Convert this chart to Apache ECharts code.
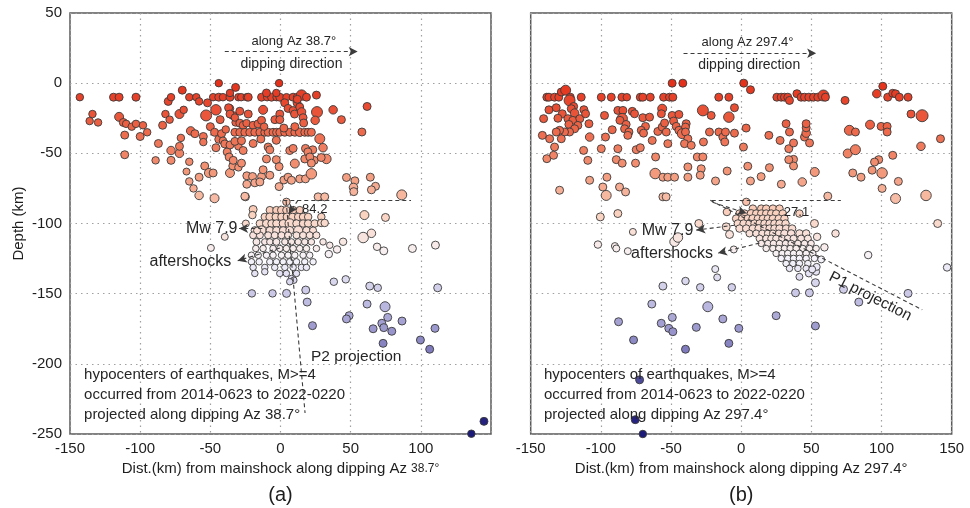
<!DOCTYPE html>
<html><head><meta charset="utf-8">
<script src="https://cdn.jsdelivr.net/npm/echarts@6/dist/echarts.min.js"></script>
<style>html,body{margin:0;padding:0;background:#fff}#c{width:970px;height:508px}</style>
</head><body><div id="c"></div>
<script>
// ---- axis ticks ----
const xTicks = [-150, -100, -50, 0, 50, 100, 150];
const yTicks = [-250, -200, -150, -100, -50, 0, 50];

// ---- panel (a): [distance km, depth km, magnitude] ----
const shallowA = [
[-143,-10,4.5],[-136,-27,4.5],[-134,-22,4.5],[-130,-28,4.5],[-119,-10,4.6],[-115,-10,4.6],[-115,-24,4.8],[-112,-28,4.6],[-110,-29,4.5],[-106,-31,4.5],[-103,-29,4.5],[-111,-37,4.6],[-111,-51,4.6],[-103,-10,4.6],[-100,-38,4.6],[-98,-30,4.5],[-95,-35,4.5],[-89,-55,4.5],[-87,-43,4.6],[-84,-30,4.6],[-82,-22,4.5],[-79,-26,4.5],[-80,-13,4.6],[-78,-10,4.5],[-78,-48,4.7],[-78,-55,4.6],[-72,-50,4.7],[-72,-45,4.6],[-71,-39,4.5],[-70,-5,4.6],[-72,-22,4.8],[-69,-19,4.5],[-65,-10,4.5],[-60,-10,4.5],[-65,-56,4.5],[-67,-63,4.4],[-65,-70,4.5],[-62,-75,4.5],[-58,-80,4.7],[-64,-34,4.7],[-61,-36,4.6],[-58,-67,4.6],[-58,-13,4.5],[-55,-38,4.6],[-55,-42,4.5],[-53,-23,5.2],[-52,-14,4.6],[-54,-59,4.6],[-51,-64,4.8],[-48,-64,4.6],[-47,-82,4.8],[-50,-31,4.6],[-47,-35,4.6],
[-44,0,4.5],[-46,-19,5.1],[-46,-46,4.6],[-44,-40,4.6],[-42,-36,4.6],[-43,-26,4.6],[-41,-41,4.5],[-39,-33,4.5],[-38,-49,4.6],[-36,-18,4.5],[-36,-64,4.8],[-34,-23,4.6],[-32,-28,4.5],[-32,-3,4.6],[-30,-45,4.5],[-29,-20,4.6],[-34,-59,4.6],[-30,-60,4.5],[-24,-66,4.6],[-24,-72,4.6],[-25,-81,4.6],
[-48,-10,4.5],[-44,-10,4.6],[-41,-10,4.5],[-36,-10,4.6],[-30,-10,4.5],[-28,-10,4.5],[-24,-10,4.5],[-23,-10,4.6],[-13.5,-10,4.6],[-9.5,-10,4.5],[-6.4,-10,4.6],[-2.8,-10,4.5],[-0.5,-10,4.6],[4.3,-10,4.5],[9,-10,4.6],[11.8,-10,4.5],[15,-8.5,5.1],[18.5,-10,4.6],[25.6,-8.5,4.6],
[-36,-7,4.5],[-10,-7,4.6],[-3,-7,4.5],[-1,0,4.5],
[-37,-17.5,4.6],[-36,-22,4.6],[-32.5,-24.5,4.5],[-23,-22,4.6],[-29,-28.5,4.6],[-26.6,-30,4.6],[-24.2,-28.5,4.5],[-19.5,-30,4.6],[-16,-29,4.6],[-13.5,-26.5,4.6],[-12.4,-19,4.8],[-4,-26,4.6],[-0.5,-22,4.6],[-0.5,-26,4.6],[3,-14,4.6],[5.4,-18,4.6],[9,-19.5,4.6],[10,-22,4.6],[11.8,-14,4.6],[13.7,-17,4.6],[12,-11.5,4.6],[15,-20.5,4.7],[16.1,-24.6,4.6],[16.5,-28.4,4.6],[26,-20.6,5.2],[24.7,-26.5,4.7],[37.5,-19,4.7],[43.4,-26,4.6],
[-32.5,-35,4.6],[-29,-35,4.6],[-25.4,-35,4.6],[-21.9,-35,4.6],[-18.3,-35,4.6],[-14.7,-35,4.6],[-11.2,-35,4.6],[-8.8,-35,4.6],[-5.3,-35,4.6],[-2.8,-35,4.6],[-0.5,-35,4.6],[3,-35,4.6],[6.6,-35,4.6],[10.2,-35,4.6],[13.7,-35,4.7],[17.3,-35,4.6],[19.7,-35,4.6],[22,-35,4.6],
[2.4,-32,4.6],[10.2,-31,4.6],[-11.7,-31,4.5],
[-39.7,-43.3,4.6],[-36,-44,4.6],[-32.5,-41.5,4.6],[-27.8,-41,4.6],[-26.6,-48,4.6],[-19.5,-43,4.6],[-14,-39.8,4.6],[-8.8,-45.5,4.6],[-7.6,-47.5,4.6],[-3,-40.7,4.6],[6.6,-48,4.6],[9,-46.5,4.6],[17.8,-46.5,4.6],[23,-47.5,4.6],[30.3,-46,4.7],[32.7,-54,4.9],
[-36.6,-52.6,4.6],[-33.7,-55,4.6],[-27.8,-57,4.6],[-19.9,-66.5,4.6],[-13.5,-66.5,4.6],[-12.4,-61.7,4.6],[-10,-54,4.6],[-3,-54.5,4.6],[-1,-59.5,4.6],[2.4,-69,4.6],[-1,-73.7,4.6],[5.4,-67,4.6],[10.2,-57.3,4.8],[13.7,-68.2,4.6],[17.3,-54,4.6],[17.8,-68.2,4.6],[19.5,-49,4.6],[22,-64.6,5.1],[24,-55,4.6],[29,-53,4.6],[47,-67.2,4.6],[53,-69.6,4.6],[52,-74.3,4.7],
[61.7,-16.6,4.6],[58,-34.8,4.6],[52.2,-77.3,4.6],[64,-67,4.6],[67.7,-73.5,4.6],[64.8,-76,4.6],[86.4,-79.6,5.0],[26.8,-81,4.6],[31.5,-81,4.6],[-19.5,-90,4.6],[-25.4,-80.6,4.6],[-18.3,-71,4.6],[-14.7,-70.4,4.6],[-7.6,-65.6,4.6],[7.8,-69.2,4.6],[20.9,-52.6,4.6],[22,-57,4.6],[28,-39.6,5.0]
];
const clusterA = [
[-7.6,-90.5,4.5],[-2.9,-90.5,4.5],[0.7,-90.5,4.6],[4.2,-90.5,4.5],[9,-90.5,4.5],[13.7,-90.5,4.5],
[-11.2,-95.3,4.5],[-7.6,-95.3,4.6],[-3.4,-95.3,4.5],[0.7,-95.3,4.5],[4.7,-95.3,4.6],[8.5,-95.3,4.5],[12.6,-95.3,4.5],[16.1,-95.3,4.5],[19.7,-95.3,4.5],[29.1,-95.3,4.5],
[-14.7,-100,4.5],[-10,-100,4.6],[-6.4,-100,4.5],[-2.9,-100,4.5],[1.9,-100,4.6],[6.6,-100,4.9],[11.4,-100,4.5],[16.1,-100,4.5],[19.7,-100,4.5],[24.4,-100,4.5],[29,-99.6,4.5],[31.5,-99.6,4.5],
[-18.3,-104.9,4.5],[-13.5,-104.9,4.8],[-7.6,-104.9,4.5],[-2.9,-104.9,4.5],[1.9,-104.9,4.5],[6.6,-104.9,4.6],[12.6,-104.9,4.8],[18.5,-104.9,4.5],[23.2,-104.9,4.4],
[-19.5,-108.4,4.4],[-14.7,-108.4,4.4],[-8.8,-108.4,4.4],[-4.1,-108.4,4.4],[0.7,-108.4,4.4],[5.4,-108.4,4.4],[11.4,-108.4,4.4],[16.1,-108.4,4.4],[20.8,-108.4,4.4],[25.6,-108.4,4.4],
[-17.1,-113.1,4.4],[-11.2,-113.1,4.3],[-7.6,-113.1,4.3],[-2.9,-113.1,4.4],[3.1,-113.1,4.3],[7.8,-113.1,4.3],[12.6,-113.1,4.3],[17.3,-113.1,4.3],[22,-113.1,4.3],[30.3,-113.1,4.3],[35.1,-115.5,4.3],
[-17.6,-117.8,4.3],[-12.4,-117.8,4.3],[-5.3,-117.8,4.3],[-0.5,-117.8,4.3],[4.2,-117.8,4.3],[9,-117.8,4.3],[13.7,-117.8,4.3],[18.5,-117.8,4.3],[25.6,-117.8,4.3],
[-20.7,-122.6,4.3],[-15.9,-122.6,4.3],[-10,-122.6,4.3],[-5.3,-122.6,4.3],[0.7,-122.6,4.3],[5.4,-122.6,4.3],[10.2,-122.6,4.3],[16.1,-122.6,4.3],[20.8,-122.6,4.3],
[-20.7,-127.3,4.3],[-15.2,-127.3,4.3],[-7.6,-127.3,4.3],[-2.9,-127.3,4.3],[1.9,-127.3,4.3],[6.6,-127.3,4.3],[11.4,-127.3,4.3],[17.3,-127.3,4.3],[23.2,-127.3,4.3],
[-19.5,-131.3,4.3],[-11.2,-131.3,4.3],[-4.1,-131.3,4.3],[3.1,-131.3,4.3],[9,-131.3,4.3],[14.9,-131.3,4.3],[18.5,-131.3,4.3],
[-18.3,-135.6,4.3],[-0.5,-135.6,4.3],[4.2,-135.6,4.3],[11.4,-135.6,4.3],[-11.2,-134.4,4.3],
[7.8,-139.2,4.3],[9.5,-140.4,4.3],[6.6,-141.5,4.3]
];
const deepA = [
[59.8,-94,4.8],[74.8,-95.7,4.6],[4.2,-84.6,4.5],[-20,-94,4.5],[-24.7,-100,4.4],[-16.7,-105,4.4],[-39.7,-109.5,4.4],[-49.6,-117.4,4.4],[58.9,-110,5.1],[64.8,-107,4.7],[68.8,-116.6,4.5],[73.6,-119.5,4.6],[94,-117.8,4.6],[110.4,-115.4,4.6],[44.6,-113,4.5],[40.3,-118.5,4.5],[34.4,-121.8,4.5],[38,-141.5,4.5],[46.5,-139.8,4.5],[63.6,-144.6,4.6],[69.3,-145.8,4.5],[112,-145.8,4.6],[-20.4,-149.8,4.5],[-5.7,-149.8,4.5],[4.3,-149.8,4.6],[18,-147.4,4.6],[19,-156,4.6],[61.7,-157.4,4.6],[74.5,-159.3,5.0],[48.9,-165.7,4.6],[47,-168,4.6],[76.4,-166.9,4.6],[86.6,-169.5,4.6],[72.2,-171.1,4.6],[73.6,-174.2,4.6],[66,-175,4.6],[79.3,-176.8,4.6],[110.1,-174.7,4.6],[22.8,-172.8,4.6],[99.7,-183,4.6],[73.1,-185.4,4.6],[106.3,-189.6,4.6],[136,-249.8,4.5],[145,-241,4.6]
];

// ---- panel (b) ----
const shallowB = [
[-138.5,-10,4.6],[-137,-10,4.6],[-133,-10,4.6],[-130,-10,4.6],[-128.2,-6.3,4.6],[-125.1,-5,5.0],[-121.8,-10,4.6],[-114,-10,4.6],[-99.7,-10,4.6],[-92.6,-10,4.6],[-85,-10,4.6],[-81.5,-10,4.5],[-71.9,-10,4.6],[-70.1,-10,4.6],[-64.8,-10,4.6],[-55.3,-10,4.6],[-51.1,-10,4.6],[-48.7,-10,4.6],[-49.2,0,4.6],[-41.6,0,4.6],[-16,-10,4.6],[-8.8,-10,4.6],
[-122.3,-12.3,5.2],[-119.4,-16.6,4.6],[-137,-19,4.6],[-131.8,-17.5,4.6],[-127.5,-21.8,4.6],[-130.6,-25,4.6],[-140.8,-25.3,4.6],[-121.1,-18.2,4.6],[-118.7,-21.3,4.7],[-123.5,-25.3,4.6],[-120,-26.5,4.6],[-122.8,-29.4,4.6],[-115,-25.3,4.6],[-112.1,-18.9,4.6],[-110.9,-21.8,4.6],[-108.5,-28.9,4.6],
[-116.4,-30.1,4.6],[-118.7,-32.5,4.6],[-122.3,-34.8,4.6],[-125.9,-34.8,4.6],[-129.4,-33.6,4.6],[-131.8,-34.8,4.6],[-128.2,-39.6,4.6],[-136.5,-39.6,4.6],[-141.7,-37.2,4.6],[-133,-45.5,4.6],[-138.5,-53.8,4.6],[-133.7,-51.4,4.6],[-109.3,-55,4.6],[-108,-69.2,4.6],[-129.4,-76.3,4.6],
[-108,-38.4,4.7],[-112.3,-47.9,4.6],[-97.4,-23,4.6],[-99.7,-46.7,4.6],[-96.7,-38.4,4.6],[-91.9,-33.2,4.6],[-87.9,-46.7,4.6],[-89,-54.5,4.6],[-84.8,-57,4.6],[-87.9,-19.4,4.6],[-84.3,-19.4,4.6],[-84.8,-25.3,5.1],[-86.4,-26.5,4.6],[-82,-29.4,4.6],[-83.1,-32.5,4.6],[-80,-34.8,4.6],[-80.8,-37.2,4.6],[-77.6,-20.1,4.6],[-76,-21.8,4.6],[-70.1,-24.6,4.6],[-65.3,-24.2,4.6],[-68.2,-30.8,4.6],[-71.2,-33.6,4.6],[-69.6,-35.6,4.6],[-74.8,-47.4,4.6],[-71.9,-46,4.6],[-75.3,-57,4.6],[-61,-52.6,4.6],[-63.4,-40.8,4.6],[-59.4,-34.4,4.6],[-56.3,-31.3,4.6],[-53.4,-34.8,4.6],[-54.6,-28.4,4.6],[-56.3,-18.2,4.8],[-56.9,-21.8,4.6],[-52.3,-43.1,4.6],[-61.3,-64.4,5.1],[-55.8,-67,4.6],[-52.3,-67,4.6],[-47.5,-67,4.6],[-38,-67,4.6],[-55.8,-81,4.6],[-53.5,-81,4.6],
[-49.2,-23,4.6],[-44.4,-22.3,4.6],[-48.2,-27,4.6],[-46.3,-30.8,4.6],[-44.4,-33.6,4.6],[-39.2,-28.9,4.6],[-39.7,-31.3,4.6],[-42,-36,5.0],[-39.7,-34.8,4.6],[-38,-39.6,4.6],[-40.4,-43.1,4.6],[-35.6,-44.3,4.6],
[-31.3,-52.6,4.6],[-27.3,-52.6,4.6],[-38,-59.7,4.6],[-28.5,-61,4.6],[-29.2,-65.6,4.6],[-18.3,-69.7,4.6],[-10,-62.6,4.6],[-27.3,-19.4,5.2],[-21.4,-23,4.6],[-8.8,-24.2,5.1],[-22.6,-34.8,4.6],[-15.9,-34.8,4.6],[-13.1,-38.4,4.6],[-11.7,-41.9,4.6],[-4.8,-35.6,4.6],[-11.2,-34.8,4.6],[-4.8,-17.5,4.6],[-26.9,-41.9,4.6],
[-95.7,-67,4.6],[-98.6,-74,4.6],[-96.2,-80,5.0],[-86.7,-74,4.6],[-82.4,-77.5,4.6],
[1.8,0,4.6],[6.6,-4.7,4.6],[3.5,-32,4.6],[1.6,-45.5,4.6],[4.7,-59.2,4.6],[6.6,-69.7,4.6],[14.2,-66.6,4.6],[20.1,-60.2,4.6],[28.6,-72,4.6],[43.5,-70.4,4.7],[52.4,-63.3,4.8],[37.3,-54.3,4.6],[37.3,-59,4.6],[33.9,-54.5,4.6],[33.9,-46.7,4.6],[37.3,-42.6,4.6],[27.7,-40.8,4.6],[19.7,-37.2,4.6],[34.4,-34.8,4.6],[32,-28.9,4.6],[45.1,-38.4,4.6],[46.3,-35.6,4.7],[48.7,-42.6,4.6],[46.3,-31.8,4.6],[46.3,-28.9,4.6],
[25.4,-10,4.6],[28.5,-10,4.6],[30.8,-10,4.6],[33.2,-10,4.6],[34.4,-12.3,4.6],[39.7,-7.5,4.6],[42.7,-10,4.6],[45.1,-10,4.6],[48.2,-10,4.6],[51.5,-10,4.6],[54.6,-10,4.6],[58.6,-8.8,5.2],[60,-10,4.6],
[74,-12.3,4.6],[77.1,-33.6,5.0],[81.4,-34.8,4.6],[75.9,-50.1,4.8],[81.4,-47.4,5.0],[91.8,-29.6,4.8],[99.7,-30.8,4.6],[104,-30.8,4.6],[104,-34.8,4.6],[96.6,-7.5,4.7],[100.9,-2.2,4.6],[104.4,-10,4.6],[108,-7.2,4.6],[110,-7.6,4.6],[112.7,-10,4.6],[118.9,-10,4.6],[121,-22,4.6],[128.9,-23.2,5.4],[128.1,-45,4.7],[142,-39.6,4.6],[108,-51.4,4.6],[98,-54.5,4.6],[95,-56.2,4.6],[93.3,-62,4.6],[100.4,-64,5.1],[79.5,-64,4.6],[85.4,-67,4.6],[100.4,-75,4.6],[112,-70,4.6],[110,-82.2,5.0],[131.7,-80,5.1],[61.7,-80.5,4.6]
];
const clusterB = [
[8.3,-89.4,4.5],[14.3,-89.4,4.5],[17.8,-89.4,4.5],[22.6,-89.4,4.5],[27.3,-89.4,4.5],
[-1.2,-92.9,4.5],[2.4,-92.9,4.5],[7.1,-92.9,4.6],[10.7,-92.9,4.5],[14.3,-92.9,4.5],[17.8,-92.9,4.5],[21.4,-92.9,4.5],[24.9,-92.9,4.5],[29.6,-92.9,4.5],[41.5,-92.9,4.5],
[-3.6,-96.5,4.5],[0.7,-96.5,4.5],[4.7,-96.5,4.5],[8.3,-96.5,4.6],[11.9,-96.5,4.5],[15.5,-96.5,4.5],[19,-96.5,4.5],[22.6,-96.5,4.5],[26.8,-96.5,4.5],[30.8,-96.5,4.5],
[-2.4,-100,4.5],[1.7,-100,4.5],[5.9,-100,4.5],[9.5,-100,4.5],[13.1,-100,4.5],[16.6,-100,4.5],[20.2,-100,4.5],[23.7,-100,4.5],[27.3,-100,4.5],[31.6,-100,4.5],
[-1.2,-103.6,4.5],[3.6,-103.6,4.5],[8.3,-103.6,4.5],[12.6,-103.6,4.6],[16.6,-103.6,4.5],[20.2,-103.6,4.5],[23.7,-103.6,4.5],[27.3,-103.6,4.5],[32,-103.6,4.5],[36.3,-103.6,4.5],
[5.9,-107.1,4.4],[10.7,-107.1,4.4],[15,-107.1,4.4],[19,-107.1,4.4],[22.6,-107.1,4.4],[26.8,-107.1,4.4],[30.8,-107.1,4.5],[35.6,-107.1,4.5],[41.5,-107.1,4.5],[46.3,-107.1,4.5],
[13.1,-110.7,4.4],[17.8,-110.7,4.4],[21.4,-110.7,4.4],[24.9,-110.7,4.4],[29.2,-110.7,4.4],[33.2,-110.7,4.4],[37.3,-110.7,4.4],[42.7,-110.7,4.4],[47.5,-110.7,4.4],
[14.3,-114.2,4.3],[19,-114.2,4.3],[23,-114.2,4.3],[27.3,-114.2,4.3],[31.6,-114.2,4.3],[35.6,-114.2,4.3],[40.4,-114.2,4.3],[45.1,-114.2,4.3],[49.8,-114.2,4.3],
[17.8,-117.8,4.3],[22.6,-117.8,4.3],[26.8,-117.8,4.3],[30.8,-117.8,4.3],[34.9,-117.8,4.3],[39.2,-117.8,4.3],[43.9,-117.8,4.3],[48.7,-117.8,4.3],[53.4,-117.8,4.3],
[24.9,-121.3,4.3],[29.2,-121.3,4.3],[33.2,-121.3,4.3],[37.3,-121.3,4.3],[41.5,-121.3,4.3],[46.3,-121.3,4.3],[51,-121.3,4.3],
[28.5,-124.9,4.3],[33.2,-124.9,4.3],[37.3,-124.9,4.3],[41.5,-124.9,4.3],[46.3,-124.9,4.3],[52.2,-124.9,4.3],
[32,-128.5,4.3],[36.8,-128.5,4.3],[41.5,-128.5,4.3],[47.5,-128.5,4.3],
[34.4,-132,4.3],[40.4,-132,4.3],[46.3,-132,4.3]
];
const deepB = [
[-87.9,-92.9,4.6],[-100.4,-95.3,4.6],[52.2,-100,4.6],[140,-100,4.6],[3.6,-84.6,4.5],[-10.2,-91.8,4.5],
[-77.2,-106,4.4],[-102.1,-115,4.5],[-90,-116.1,4.4],[-89,-117.8,4.4],[-80.8,-119.7,4.4],[-47.5,-113,4.9],[-45.1,-110,4.9],[-30.2,-100,4.6],[-10.7,-102.4,4.6],[-8.3,-107.8,4.6],[-5.3,-118.5,4.4],[-18.5,-132.5,4.4],[-17.1,-138.4,4.4],[-55.8,-144.6,4.6],[-39.7,-141,4.5],[-29.2,-145.5,4.5],[-6.7,-145.5,4.5],[-63.7,-157.4,4.6],[-23.8,-159.3,5.0],[-87.4,-170,4.6],[-49.1,-166.9,4.6],[-57,-171.1,4.6],[-51.6,-174.7,4.6],[-48.7,-177.1,4.6],[-32,-174,4.6],[-13.1,-168,4.6],[-1.7,-174.7,4.6],[-76.7,-183,4.6],[-39.7,-189.6,4.6],[-8.8,-185.4,4.6],[-72.4,-211.4,4.6],[-75.5,-239.8,4.6],[-70.1,-250,4.5],
[24.9,-165.7,4.6],[52.9,-173,4.6],[38.7,-149.4,4.6],[48.6,-149.4,4.6],[52.9,-142.2,4.6],[72.9,-146.9,4.6],[83.8,-156,4.6],[118.9,-149.8,4.6],[90.5,-122.5,4.5],[146.7,-131.3,4.5],[41.5,-138,4.4],[48.2,-135.6,4.4],[53.4,-134.4,4.4],[53.8,-130.9,4.4],[50.6,-132.7,4.4],[59.3,-117,4.5],[57,-125.6,4.4],[54.1,-109.5,4.5],[67.2,-107.1,4.5]
];

const FONT = '"Liberation Sans", Arial, Helvetica, sans-serif';
const TXT = '#1e1e1e';
const chart = echarts.init(document.getElementById('c'), null, {renderer: 'canvas'});

const X0 = xTicks[0], X1 = xTicks[xTicks.length - 1], XI = xTicks[1] - xTicks[0];
const Y0 = yTicks[0], Y1 = yTicks[yTicks.length - 1], YI = yTicks[1] - yTicks[0];

function xAx(i, showLast, name) {
  return {
    type: 'value', gridIndex: i, min: X0, max: X1, interval: XI,
    axisLine: {show: false}, axisTick: {show: false},
    axisLabel: {margin: 7, color: TXT, fontSize: 15, fontFamily: FONT,
      formatter: v => (!showLast && v === X1) ? '' : String(v)},
    splitLine: {show: true, lineStyle: {color: '#a0a0a0', type: [1.5, 4], width: 1.2}},
    name: name, nameLocation: 'middle', nameGap: 25,
    nameTextStyle: {color: TXT, fontSize: 15, fontFamily: FONT,
      rich: {a: {fontSize: 15, fontFamily: FONT, color: TXT}, b: {fontSize: 12, fontFamily: FONT, color: TXT}}}
  };
}
function yAx(i, showLabels) {
  return {
    type: 'value', gridIndex: i, min: Y0, max: Y1, interval: YI,
    axisLine: {show: false}, axisTick: {show: false},
    axisLabel: {show: showLabels, margin: 8, color: TXT, fontSize: 15, fontFamily: FONT},
    splitLine: {show: true, lineStyle: {color: '#a0a0a0', type: [1.5, 4], width: 1.2}},
    name: showLabels ? 'Depth (km)' : '', nameLocation: 'middle', nameGap: 44, nameRotate: 90,
    nameTextStyle: {color: TXT, fontSize: 15, fontFamily: FONT}
  };
}
const symSize = v => 7.5 + (v[2] - 4.5) * 5;
const itemStyle = {borderColor: '#3a3a3a', borderWidth: 0.9, opacity: 1};
function sc(data, gi, ml) {
  const s = {type: 'scatter', xAxisIndex: gi, yAxisIndex: gi, data: data, symbolSize: symSize,
    itemStyle: itemStyle, emphasis: {disabled: true}, silent: true, clip: false};
  if (ml) s.markLine = ml;
  return s;
}
const dashStyle = {type: [4, 3], color: '#3c3c3c', width: 1.1};
function seg(a, b, arrow) {
  return [{coord: a, symbol: 'none'}, {coord: b, symbol: arrow ? 'arrow' : 'none', symbolSize: arrow ? [7, 9] : 0}];
}
const mlA = {silent: true, animation: false, label: {show: false}, lineStyle: dashStyle, symbol: ['none', 'none'],
  emphasis: {disabled: true},
  data: [
    seg([-39.7, 22.5], [55, 22.5], true),
    seg([2, -83.5], [93, -83.5], false),
    seg([4, -84], [17.5, -235], false),
    seg([12.4, -83.5], [6, -93], true),
    seg([-13, -103.5], [-29.5, -103.5], true),
    seg([-0.5, -117.5], [-30.5, -126.5], true)
  ]};
const mlB = {silent: true, animation: false, label: {show: false}, lineStyle: dashStyle, symbol: ['none', 'none'],
  emphasis: {disabled: true},
  data: [
    seg([-41.1, 21.3], [53.4, 21.3], true),
    seg([-21, -83.5], [71, -83.5], false),
    seg([-22, -83.5], [129, -161.5], false),
    seg([-20.4, -84.9], [3.8, -92.7], true),
    seg([-4.8, -101.2], [-32, -104.7], true),
    seg([13, -114], [-16.5, -121.1], true)
  ]};

chart.setOption({
  animation: false,
  backgroundColor: '#fff',
  grid: [
    {left: 70, top: 13, width: 421, height: 421, show: true, borderColor: '#5a5a5a', borderWidth: 1.5, backgroundColor: 'transparent'},
    {left: 530.7, top: 13, width: 421, height: 421, show: true, borderColor: '#5a5a5a', borderWidth: 1.5, backgroundColor: 'transparent'}
  ],
  xAxis: [
    xAx(0, false, '{a|Dist.(km) from mainshock along dipping Az }{b|38.7°}'),
    xAx(1, true, 'Dist.(km) from mainshock along dipping Az 297.4°')
  ],
  yAxis: [yAx(0, true), yAx(1, false)],
  visualMap: {
    type: 'continuous', show: false, dimension: 1, min: -250, max: 0,
    seriesIndex: [0, 1, 2, 3, 4, 5],
    inRange: {color: ['#1c1a78', '#3c3990', '#8480c0', '#bfbce2', '#f7f5fb', '#fad2c0', '#f39678', '#ec6446', '#e4311b']}
  },
  series: [
    sc(shallowA, 0), sc(clusterA, 0, mlA), sc(deepA, 0),
    sc(shallowB, 1), sc(clusterB, 1, mlB), sc(deepB, 1)
  ]
});

function P(g, x, y) { return chart.convertToPixel({gridIndex: g}, [x, y]); }
function T(g, x, y, text, size, align, rot) {
  const p = P(g, x, y);
  return {type: 'text', x: p[0], y: p[1], rotation: rot || 0, z: 100, silent: true,
    style: {text: text, fontSize: size, fontFamily: FONT, fill: '#262626', align: align || 'center', verticalAlign: 'middle'}};
}
const g = [];
// panel (a)
g.push(T(0, 9.5, 29.7, 'along Az 38.7°', 13));
g.push(T(0, 7.8, 13.3, 'dipping direction', 14));
g.push(T(0, 24.4, -89.8, '84.2', 13));
g.push(T(0, -49, -103.3, 'Mw 7.9', 16));
g.push(T(0, -64.2, -127.5, 'aftershocks', 16));
g.push(T(0, 53.9, -195, 'P2 projection', 15.5));
g.push(T(0, -140, -208, 'hypocenters of earthquakes, M>=4', 15, 'left'));
g.push(T(0, -140, -222.2, 'occurred from 2014-0623 to 2022-0220', 15, 'left'));
g.push(T(0, -140, -236.4, 'projected along dipping Az 38.7°', 15, 'left'));
// panel (b)
g.push(T(1, 4.5, 29, 'along Az 297.4°', 13));
g.push(T(1, 5.7, 12.6, 'dipping direction', 14));
g.push(T(1, 39.4, -92, '27.1', 13));
g.push(T(1, -52.5, -104.8, 'Mw 7.9', 16));
g.push(T(1, -49.3, -121.8, 'aftershocks', 16));
g.push(T(1, 92, -152, 'P1 projection', 15.5, 'center', -27.1 * Math.PI / 180));
g.push(T(1, -140.6, -208, 'hypocenters of earthquakes, M>=4', 15, 'left'));
g.push(T(1, -140.6, -222.2, 'occurred from 2014-0623 to 2022-0220', 15, 'left'));
g.push(T(1, -140.6, -236.4, 'projected along dipping Az 297.4°', 15, 'left'));
// panel tags
const pa = P(0, 0, 0), pb = P(1, 0, 0);
g.push({type: 'text', x: pa[0], y: 495, silent: true, style: {text: '(a)', fontSize: 20, fontFamily: FONT, fill: '#1e1e1e', align: 'center', verticalAlign: 'middle'}});
g.push({type: 'text', x: pb[0], y: 495, silent: true, style: {text: '(b)', fontSize: 20, fontFamily: FONT, fill: '#1e1e1e', align: 'center', verticalAlign: 'middle'}});
chart.setOption({graphic: g});
</script>
</body></html>
